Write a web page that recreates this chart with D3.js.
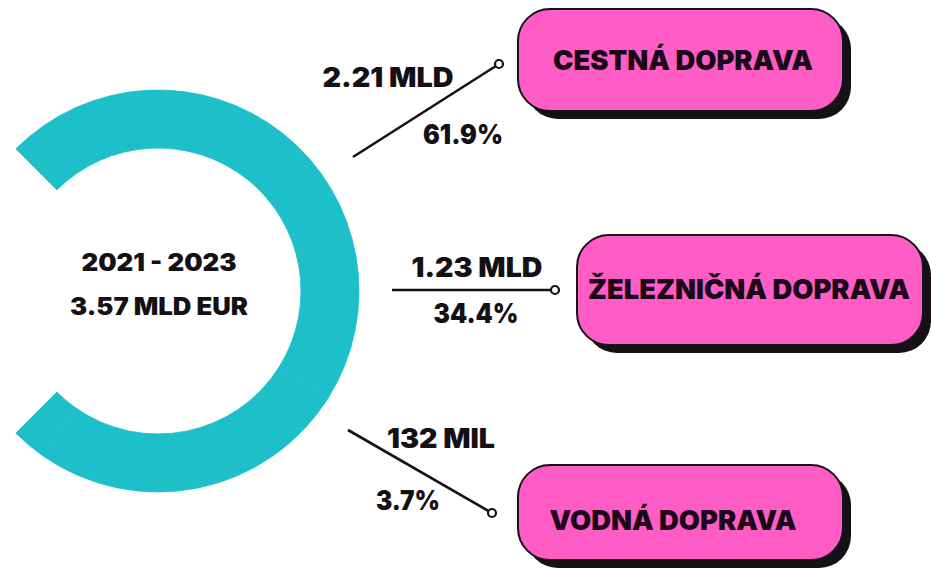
<!DOCTYPE html>
<html>
<head>
<meta charset="utf-8">
<script src="https://cdn.jsdelivr.net/npm/d3@7"></script>
<style>
  body { margin: 0; background: #ffffff; }
  text { font-family: Inter, "DejaVu Sans", sans-serif; font-weight: 800; fill: #141014; }
</style>
</head>
<body>
<div id="canvas"></div>
<script>
"use strict";

/**** DATA ****/
let categories = ["CESTNÁ DOPRAVA", "ŽELEZNIČNÁ DOPRAVA", "VODNÁ DOPRAVA"];
let amounts = ["2.21 MLD", "1.23 MLD", "132 MIL"];
let shares = [61.9, 34.4, 3.7];
let periodLabel = "2021 - 2023";
let totalLabel = "3.57 MLD EUR";

/**** CONFIGURATION ****/
let svgWidth = 931;
let svgHeight = 572;

let ringX = 158;
let ringY = 291;
let outerRadius = 201;
let innerRadius = 143;

let teal = "#1dbfc9";
let pink = "#ff5cc6";
let dark = "#161116";

// label / box layout for each category (same order as categories)
let layout = [
    { box: [518, 9, 325, 102], text: [683, 70], from: [353, 157], to: [499, 64],
      amt: [388, 87, 131], pct: [463, 144, 80] },
    { box: [577, 235, 346, 110], text: [749, 299], from: [392, 290], to: [555, 290],
      amt: [477, 277, 131], pct: [476, 323, 85] },
    { box: [518, 465, 325, 95], text: [673, 530], from: [348, 430], to: [492, 513],
      amt: [441, 448, 108], pct: [408, 510, 64] }
];
let boxTextWidth = [260, 322, 247];

/**** SVG ****/
let svg = d3.select("#canvas")
    .append("svg")
    .attr("width", svgWidth)
    .attr("height", svgHeight)
    .style("display", "block");

/**** RING (270 degree sweep, open on the left) ****/
let pie = d3.pie()
    .sort(null)
    .startAngle(-Math.PI / 4)
    .endAngle(5 * Math.PI / 4)
    .padAngle(0);

let arc = d3.arc()
    .innerRadius(innerRadius)
    .outerRadius(outerRadius);

svg.append("g")
    .attr("transform", `translate(${ringX},${ringY})`)
    .selectAll("path")
    .data(pie(shares))
    .join("path")
    .attr("d", arc)
    .attr("fill", teal)
    .attr("stroke", teal)
    .attr("stroke-width", 0.8);

/**** CENTER TEXT ****/
svg.append("text")
    .attr("x", ringX + 1)
    .attr("y", 271)
    .attr("text-anchor", "middle")
    .style("font-size", "24px")
    .style("font-weight", 900)
    .attr("textLength", 155)
    .attr("lengthAdjust", "spacingAndGlyphs")
    .text(periodLabel);

svg.append("text")
    .attr("x", ringX + 1)
    .attr("y", 315)
    .attr("text-anchor", "middle")
    .style("font-size", "24px")
    .style("font-weight", 900)
    .attr("textLength", 178)
    .attr("lengthAdjust", "spacingAndGlyphs")
    .text(totalLabel);

/**** LEADER LINES + VALUES ****/
for (let i = 0; i < categories.length; i++) {
    let l = layout[i];

    svg.append("line")
        .attr("x1", l.from[0])
        .attr("y1", l.from[1])
        .attr("x2", l.to[0])
        .attr("y2", l.to[1])
        .attr("stroke", dark)
        .attr("stroke-width", 2.6);

    svg.append("circle")
        .attr("cx", l.to[0])
        .attr("cy", l.to[1])
        .attr("r", 4)
        .attr("fill", "#ffffff")
        .attr("stroke", dark)
        .attr("stroke-width", 2.2);

    svg.append("text")
        .attr("x", l.amt[0])
        .attr("y", l.amt[1])
        .attr("text-anchor", "middle")
        .style("font-size", "26.5px")
        .style("font-weight", 900)
        .attr("textLength", l.amt[2])
        .attr("lengthAdjust", "spacingAndGlyphs")
        .text(amounts[i]);

    svg.append("text")
        .attr("x", l.pct[0])
        .attr("y", l.pct[1])
        .attr("text-anchor", "middle")
        .style("font-size", "26.5px")
        .style("font-weight", 900)
        .attr("textLength", l.pct[2])
        .attr("lengthAdjust", "spacingAndGlyphs")
        .text(`${shares[i]}%`);
}

/**** CATEGORY BOXES ****/
for (let i = 0; i < categories.length; i++) {
    let b = layout[i].box;

    // drop shadow
    svg.append("rect")
        .attr("x", b[0] + 8)
        .attr("y", b[1] + 8)
        .attr("width", b[2])
        .attr("height", b[3])
        .attr("rx", 32)
        .attr("fill", dark);

    svg.append("rect")
        .attr("x", b[0])
        .attr("y", b[1])
        .attr("width", b[2])
        .attr("height", b[3])
        .attr("rx", 32)
        .attr("fill", pink)
        .attr("stroke", dark)
        .attr("stroke-width", 2);

    svg.append("text")
        .attr("x", layout[i].text[0])
        .attr("y", layout[i].text[1])
        .attr("text-anchor", "middle")
        .style("font-size", "27.5px")
        .style("font-weight", 900)
        .attr("textLength", boxTextWidth[i])
        .attr("lengthAdjust", "spacingAndGlyphs")
        .style("fill", "#1a0818")
        .text(categories[i]);
}
</script>
</body>
</html>
